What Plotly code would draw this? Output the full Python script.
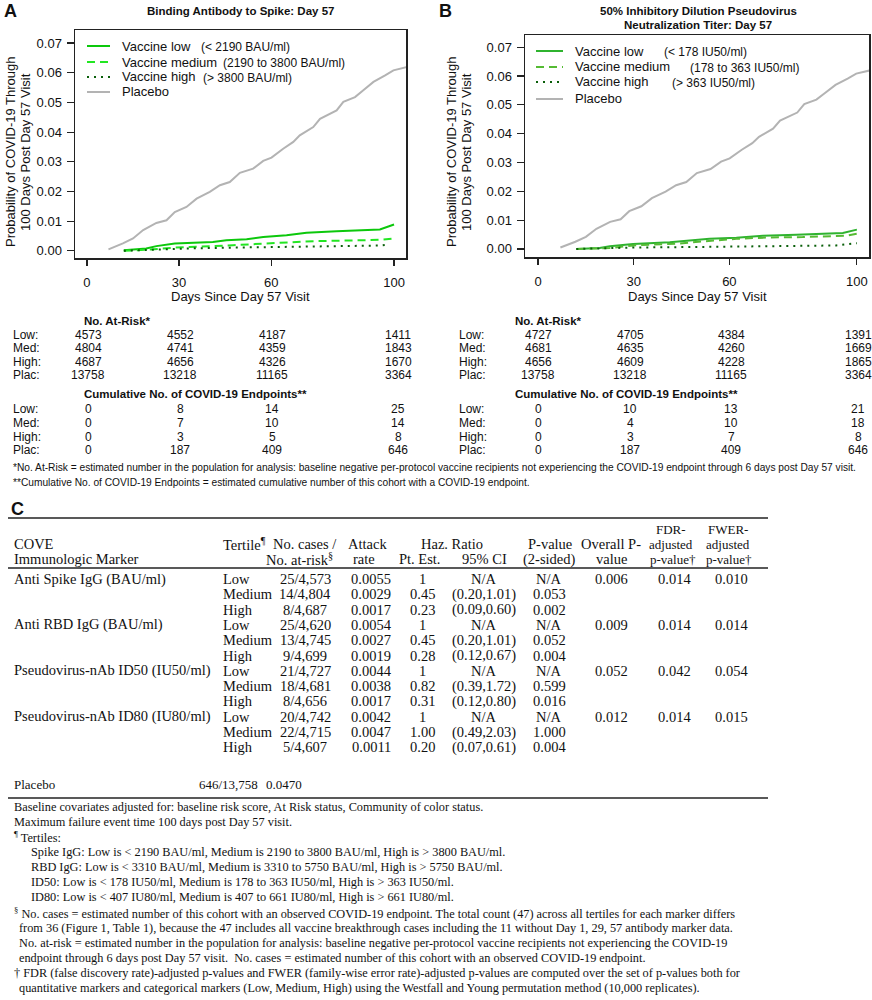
import plotly.graph_objects as go

# ------------------------------------------------------------------ data
day_ticks = [0, 30, 60, 100]
prob_ticks = [0.00, 0.01, 0.02, 0.03, 0.04, 0.05, 0.06, 0.07]

placebo_days = [7, 11.7, 15, 18.3, 22.6, 25.9, 28.6, 32.4, 35.7, 40, 43.3, 46.5, 49.8, 54.1,
                57.4, 60.1, 63.9, 67.2, 69.3, 73.7, 75.9, 81.3, 83.5, 87.3, 90, 93.3, 97.1, 99.8, 104]
placebo_prob = [0.0005, 0.0025, 0.0042, 0.0070, 0.0094, 0.0103, 0.0131, 0.0148, 0.0176, 0.0199,
                0.0221, 0.0232, 0.0263, 0.0277, 0.0303, 0.0314, 0.0344, 0.0367, 0.0389, 0.0417,
                0.0445, 0.0473, 0.0502, 0.0518, 0.0541, 0.0569, 0.0591, 0.0608, 0.0619]

# Panel A: binding antibody to Spike
low_A_days = [12, 19.3, 22.6, 28.6, 41, 45.4, 52, 57.4, 65, 71.5, 81.3, 95.4, 100]
low_A_prob = [0.0002, 0.0008, 0.0016, 0.0025, 0.0030, 0.0036, 0.0039, 0.0047, 0.0053, 0.0061, 0.0066, 0.0072, 0.0089]
med_A_days = [12, 20, 28.6, 42.2, 47.6, 58.5, 66, 74.8, 91, 96.5, 100]
med_A_prob = [0.0, 0.0004, 0.0011, 0.0016, 0.0019, 0.0025, 0.0028, 0.0033, 0.0036, 0.0038, 0.0042]
high_A_days = [12, 23.7, 32.4, 47.6, 60.7, 73.7, 95.4, 98]
high_A_prob = [0.0, 0.0006, 0.0008, 0.0011, 0.0013, 0.0016, 0.0018, 0.0021]

# Panel B: ID50 pseudovirus neutralization titer
low_B_days = [12, 19.3, 22.5, 29.8, 41.3, 47.5, 53.8, 62.2, 70.5, 81, 95.6, 100]
low_B_prob = [0.0, 0.0003, 0.0009, 0.0017, 0.0023, 0.0028, 0.0035, 0.0039, 0.0046, 0.0049, 0.0055, 0.0067]
med_B_days = [12, 22.5, 30.8, 43.4, 51.7, 62.2, 72.6, 83, 96.7, 100]
med_B_prob = [0.0, 0.0003, 0.0013, 0.0018, 0.0026, 0.0035, 0.0040, 0.0041, 0.0046, 0.0053]
high_B_days = [12, 30.8, 51.7, 72.6, 93.5, 100]
high_B_prob = [0.0, 0.0005, 0.0007, 0.0009, 0.0012, 0.0020]

legend_names = ["Vaccine low", "Vaccine medium", "Vaccine high", "Placebo"]
legend_ranges_A = ["(< 2190 BAU/ml)", "(2190 to 3800 BAU/ml)", "(> 3800 BAU/ml)", ""]
legend_ranges_B = ["(< 178 IU50/ml)", "(178 to 363 IU50/ml)", "(> 363 IU50/ml)", ""]

risk_rows = ["Low:", "Med:", "High:", "Plac:"]
atrisk_A_low = [4573, 4552, 4187, 1411]
atrisk_A_med = [4804, 4741, 4359, 1843]
atrisk_A_high = [4687, 4656, 4326, 1670]
atrisk_A_plac = [13758, 13218, 11165, 3364]
cum_A_low = [0, 8, 14, 25]
cum_A_med = [0, 7, 10, 14]
cum_A_high = [0, 3, 5, 8]
cum_A_plac = [0, 187, 409, 646]

atrisk_B_low = [4727, 4705, 4384, 1391]
atrisk_B_med = [4681, 4635, 4260, 1669]
atrisk_B_high = [4656, 4609, 4228, 1865]
atrisk_B_plac = [13758, 13218, 11165, 3364]
cum_B_low = [0, 10, 13, 21]
cum_B_med = [0, 4, 10, 18]
cum_B_high = [0, 3, 7, 8]
cum_B_plac = [0, 187, 409, 646]

# Panel C table
tbl_markers = ["Anti Spike IgG (BAU/ml)", "Anti RBD IgG (BAU/ml)",
               "Pseudovirus-nAb ID50 (IU50/ml)", "Pseudovirus-nAb ID80 (IU80/ml)"]
tbl_tertiles = ["Low", "Medium", "High"]
tbl_cases = ["25/4,573", "14/4,804", "8/4,687", "25/4,620", "13/4,745", "9/4,699",
             "21/4,727", "18/4,681", "8/4,656", "20/4,742", "22/4,715", "5/4,607"]
tbl_attack = ["0.0055", "0.0029", "0.0017", "0.0054", "0.0027", "0.0019",
              "0.0044", "0.0038", "0.0017", "0.0042", "0.0047", "0.0011"]
tbl_pt_est = ["1", "0.45", "0.23", "1", "0.45", "0.28", "1", "0.82", "0.31", "1", "1.00", "0.20"]
tbl_ci = ["N/A", "(0.20,1.01)", "(0.09,0.60)", "N/A", "(0.20,1.01)", "(0.12,0.67)",
          "N/A", "(0.39,1.72)", "(0.12,0.80)", "N/A", "(0.49,2.03)", "(0.07,0.61)"]
tbl_pval = ["N/A", "0.053", "0.002", "N/A", "0.052", "0.004",
            "N/A", "0.599", "0.016", "N/A", "1.000", "0.004"]
tbl_overall = ["0.006", "0.009", "0.052", "0.012"]
tbl_fdr = ["0.014", "0.014", "0.042", "0.014"]
tbl_fwer = ["0.010", "0.014", "0.054", "0.015"]
placebo_row = ["Placebo", "646/13,758", "0.0470"]

# ------------------------------------------------------------------ helpers
W, H = 872, 1000
SANS = "Liberation Sans, Arial, sans-serif"
SERIF = "Liberation Serif, Times New Roman, serif"


def X(p):
    return p / W


def Y(p):
    return 1 - p / H


fig = go.Figure()


def txt(x, y, s, size=12, anchor="left", font=SANS, angle=0, color="#111"):
    fig.add_annotation(x=X(x), y=Y(y), xref="paper", yref="paper", text=s, showarrow=False,
                       xanchor=anchor, yanchor="middle", textangle=angle,
                       font=dict(family=font, size=size, color=color), borderpad=0)


def hline(x0, x1, y, width=1.5, color="#222", dash="solid"):
    fig.add_shape(type="line", xref="paper", yref="paper", x0=X(x0), x1=X(x1), y0=Y(y), y1=Y(y),
                  line=dict(color=color, width=width, dash=dash))


# ------------------------------------------------------------------ panels A, B
panels = [
    dict(xa="x", ya="y", box=(75, 406, 30, 258), xr=[-3.9, 103.9], yr=[-0.0024, 0.0744],
         low=(low_A_days, low_A_prob), med=(med_A_days, med_A_prob), high=(high_A_days, high_A_prob),
         colors=("#0cc80c", "#22e622", "#0a5f0a")),
    dict(xa="x2", ya="y2", box=(525, 869, 35, 257), xr=[-4.1, 103.8], yr=[-0.0028, 0.0742],
         low=(low_B_days, low_B_prob), med=(med_B_days, med_B_prob), high=(high_B_days, high_B_prob),
         colors=("#2fb32f", "#55bb33", "#0a5f0a")),
]
dash_med = "8px,5px"
dash_high = "2px,5px"

for i, p in enumerate(panels):
    cl, cm, ch = p["colors"]
    fig.add_trace(go.Scatter(x=placebo_days, y=placebo_prob, mode="lines", xaxis=p["xa"], yaxis=p["ya"],
                             line=dict(color="#b3b3b3", width=2), showlegend=False))
    fig.add_trace(go.Scatter(x=p["low"][0], y=p["low"][1], mode="lines", xaxis=p["xa"], yaxis=p["ya"],
                             line=dict(color=cl, width=2), showlegend=False))
    fig.add_trace(go.Scatter(x=p["med"][0], y=p["med"][1], mode="lines", xaxis=p["xa"], yaxis=p["ya"],
                             line=dict(color=cm, width=2, dash=dash_med), showlegend=False))
    fig.add_trace(go.Scatter(x=p["high"][0], y=p["high"][1], mode="lines", xaxis=p["xa"], yaxis=p["ya"],
                             line=dict(color=ch, width=2, dash=dash_high), showlegend=False))
    l, r, t, b = p["box"]
    suffix = "" if i == 0 else "2"
    fig.update_layout(**{
        "xaxis" + suffix: dict(domain=[X(l), X(r)], range=p["xr"], anchor=p["ya"], tickvals=day_ticks,
                               ticks="outside", ticklen=6, tickwidth=1.2, tickcolor="#222",
                               showline=True, mirror=True, linecolor="#222", linewidth=1.5,
                               showgrid=False, zeroline=False, ticklabelstandoff=6, automargin=False,
                               tickfont=dict(family=SANS, size=13, color="#111")),
        "yaxis" + suffix: dict(domain=[Y(b), Y(t)], range=p["yr"], anchor=p["xa"], tickvals=prob_ticks,
                               tickformat=".2f", ticks="outside", ticklen=7, tickwidth=1.2, tickcolor="#222",
                               showline=True, mirror=True, linecolor="#222", linewidth=1.5,
                               showgrid=False, zeroline=False, ticklabelstandoff=2, automargin=False,
                               tickfont=dict(family=SANS, size=13, color="#111")),
    })

# titles / letters
txt(3, 11, "<b>A</b>", 18)
txt(438, 11, "<b>B</b>", 18)
txt(241, 11, "<b>Binding Antibody to Spike: Day 57</b>", 11.5, "center")
txt(698, 11, "<b>50% Inhibitory Dilution Pseudovirus</b>", 11.5, "center")
txt(698, 25, "<b>Neutralization Titer: Day 57</b>", 11.5, "center")

# axis titles
txt(240, 297, "Days Since Day 57 Visit", 13, "center")
txt(697, 297, "Days Since Day 57 Visit", 13, "center")
txt(10, 152, "Probability of COVID-19 Through", 13, "center", angle=-90)
txt(25, 152, "100 Days Post Day 57 Visit", 13, "center", angle=-90)
txt(451, 152, "Probability of COVID-19 Through", 13, "center", angle=-90)
txt(466, 152, "100 Days Post Day 57 Visit", 13, "center", angle=-90)

# manual legends
leg_specs = [
    dict(x0=87, x1=110, tx=121, ys=[46, 62, 77, 92], rx=[200, 222, 202], ranges=legend_ranges_A,
         colors=panels[0]["colors"]),
    dict(x0=536, x1=563, tx=574, ys=[51, 67, 82, 99], rx=[663, 689, 671], ranges=legend_ranges_B,
         colors=panels[1]["colors"]),
]
for spec in leg_specs:
    cl, cm, ch = spec["colors"]
    styles = [(cl, "solid"), (cm, dash_med), (ch, dash_high), ("#b3b3b3", "solid")]
    for k, name in enumerate(legend_names):
        hline(spec["x0"], spec["x1"], spec["ys"][k], width=2, color=styles[k][0], dash=styles[k][1])
        txt(spec["tx"], spec["ys"][k], name, 13)
        if k < 3:
            txt(spec["rx"][k], spec["ys"][k] + 1, spec["ranges"][k], 12)

# at-risk tables
risk_tables = [
    dict(lx=12, hx=83, cols=[88, 180, 272, 398],
         atrisk=[atrisk_A_low, atrisk_A_med, atrisk_A_high, atrisk_A_plac],
         cum=[cum_A_low, cum_A_med, cum_A_high, cum_A_plac]),
    dict(lx=458, hx=514, cols=[538, 630, 731, 858],
         atrisk=[atrisk_B_low, atrisk_B_med, atrisk_B_high, atrisk_B_plac],
         cum=[cum_B_low, cum_B_med, cum_B_high, cum_B_plac]),
]
atrisk_y = [335, 348, 362, 375]
cum_y = [409, 423, 437, 450]
for rt in risk_tables:
    txt(rt["hx"], 321, "<b>No. At-Risk*</b>", 11.5)
    txt(rt["hx"], 394, "<b>Cumulative No. of COVID-19 Endpoints**</b>", 11.5)
    for k, lab in enumerate(risk_rows):
        txt(rt["lx"], atrisk_y[k], lab, 12)
        txt(rt["lx"], cum_y[k], lab, 12)
        for j, cx in enumerate(rt["cols"]):
            txt(cx, atrisk_y[k], str(rt["atrisk"][k][j]), 12, "center")
            txt(cx, cum_y[k], str(rt["cum"][k][j]), 12, "center")

txt(12, 467, "*No. At-Risk = estimated number in the population for analysis: baseline negative per-protocol "
             "vaccine recipients not experiencing the COVID-19 endpoint through 6 days post Day 57 visit.", 10.2)
txt(12, 482, "**Cumulative No. of COVID-19 Endpoints = estimated cumulative number of this cohort with a "
             "COVID-19 endpoint.", 10.2)

# ------------------------------------------------------------------ panel C table
txt(10, 509, "<b>C</b>", 18)
hline(8, 768, 518)
hline(8, 768, 568)
hline(8, 768, 798)

TS = 14.5
col_cases, col_attack, col_pt, col_ci, col_p, col_over, col_fdr, col_fwer = 305, 371, 422, 484, 549, 611, 674, 731

txt(671, 529, "FDR-", 13, "center", SERIF)
txt(728, 529, "FWER-", 13, "center", SERIF)
h1 = 544
txt(13, h1, "COVE", TS, "left", SERIF)
txt(222, h1, "Tertile<sup>¶</sup>", TS, "left", SERIF)
txt(305, h1, "No. cases /", TS, "center", SERIF)
txt(367, h1, "Attack", TS, "center", SERIF)
txt(452, h1, "Haz. Ratio", TS, "center", SERIF)
txt(550, h1, "P-value", TS, "center", SERIF)
txt(611, h1, "Overall P-", TS, "center", SERIF)
txt(671, h1, "adjusted", 13, "center", SERIF)
txt(728, h1, "adjusted", 13, "center", SERIF)
h2 = 559
txt(13, h2, "Immunologic Marker", TS, "left", SERIF)
txt(334, h2, "No. at-risk<sup>§</sup>", TS, "right", SERIF)
txt(364, h2, "rate", TS, "center", SERIF)
txt(420, h2, "Pt. Est.", TS, "center", SERIF)
txt(484, h2, "95% CI", TS, "center", SERIF)
txt(549, h2, "(2-sided)", TS, "center", SERIF)
txt(611, h2, "value", TS, "center", SERIF)
txt(673, h2, "p-value†", 13, "center", SERIF)
txt(729, h2, "p-value†", 13, "center", SERIF)

row0, step = 579, 15.3
for r in range(12):
    y = row0 + r * step
    m, t = divmod(r, 3)
    if t == 0:
        txt(13, y, tbl_markers[m], TS, "left", SERIF)
        txt(col_over, y, tbl_overall[m], TS, "center", SERIF)
        txt(col_fdr, y, tbl_fdr[m], TS, "center", SERIF)
        txt(col_fwer, y, tbl_fwer[m], TS, "center", SERIF)
    txt(222, y, tbl_tertiles[t], TS, "left", SERIF)
    txt(col_cases, y, tbl_cases[r], TS, "center", SERIF)
    txt(col_attack, y, tbl_attack[r], TS, "center", SERIF)
    txt(col_pt, y, tbl_pt_est[r], TS, "center", SERIF)
    txt(col_ci, y, tbl_ci[r], TS, "center", SERIF)
    txt(col_p, y, tbl_pval[r], TS, "center", SERIF)

txt(13, 784, placebo_row[0], 13, "left", SERIF)
txt(228, 784, placebo_row[1], 13, "center", SERIF)
txt(284, 784, placebo_row[2], 13, "center", SERIF)

FN = 12.3
notes = [
    (13, 807, "Baseline covariates adjusted for: baseline risk score, At Risk status, Community of color status."),
    (13, 822, "Maximum failure event time 100 days post Day 57 visit."),
    (13, 837, "<sup>¶</sup> Tertiles:"),
    (30, 852, "Spike IgG: Low is &lt; 2190 BAU/ml, Medium is 2190 to 3800 BAU/ml, High is &gt; 3800 BAU/ml."),
    (30, 867, "RBD IgG: Low is &lt; 3310 BAU/ml, Medium is 3310 to 5750 BAU/ml, High is &gt; 5750 BAU/ml."),
    (30, 882, "ID50: Low is &lt; 178 IU50/ml, Medium is 178 to 363 IU50/ml, High is &gt; 363 IU50/ml."),
    (30, 897, "ID80: Low is &lt; 407 IU80/ml, Medium is 407 to 661 IU80/ml, High is &gt; 661 IU80/ml."),
    (13, 913, "<sup>§</sup> No. cases = estimated number of this cohort with an observed COVID-19 endpoint. "
              "The total count (47) across all tertiles for each marker differs"),
    (18, 928, "from 36 (Figure 1, Table 1), because the 47 includes all vaccine breakthrough cases including "
              "the 11 without Day 1, 29, 57 antibody marker data."),
    (18, 943, "No. at-risk = estimated number in the population for analysis: baseline negative per-protocol "
              "vaccine recipients not experiencing the COVID-19"),
    (18, 958, "endpoint through 6 days post Day 57 visit.  No. cases = estimated number of this cohort with "
              "an observed COVID-19 endpoint."),
    (13, 973, "† FDR (false discovery rate)-adjusted p-values and FWER (family-wise error rate)-adjusted "
              "p-values are computed over the set of p-values both for"),
    (18, 988, "quantitative markers and categorical markers (Low, Medium, High) using the Westfall and Young "
              "permutation method (10,000 replicates)."),
]
for x, y, s in notes:
    txt(x, y, s, FN, "left", SERIF)

fig.update_layout(width=W, height=H, margin=dict(l=0, r=0, t=0, b=0, pad=0),
                  paper_bgcolor="white", plot_bgcolor="white", showlegend=False)

fig.write_html("out.html", config={"displayModeBar": False, "staticPlot": True},
               post_script="document.body.style.margin='0';document.body.style.padding='0';"
                           "document.body.style.overflow='hidden';")
